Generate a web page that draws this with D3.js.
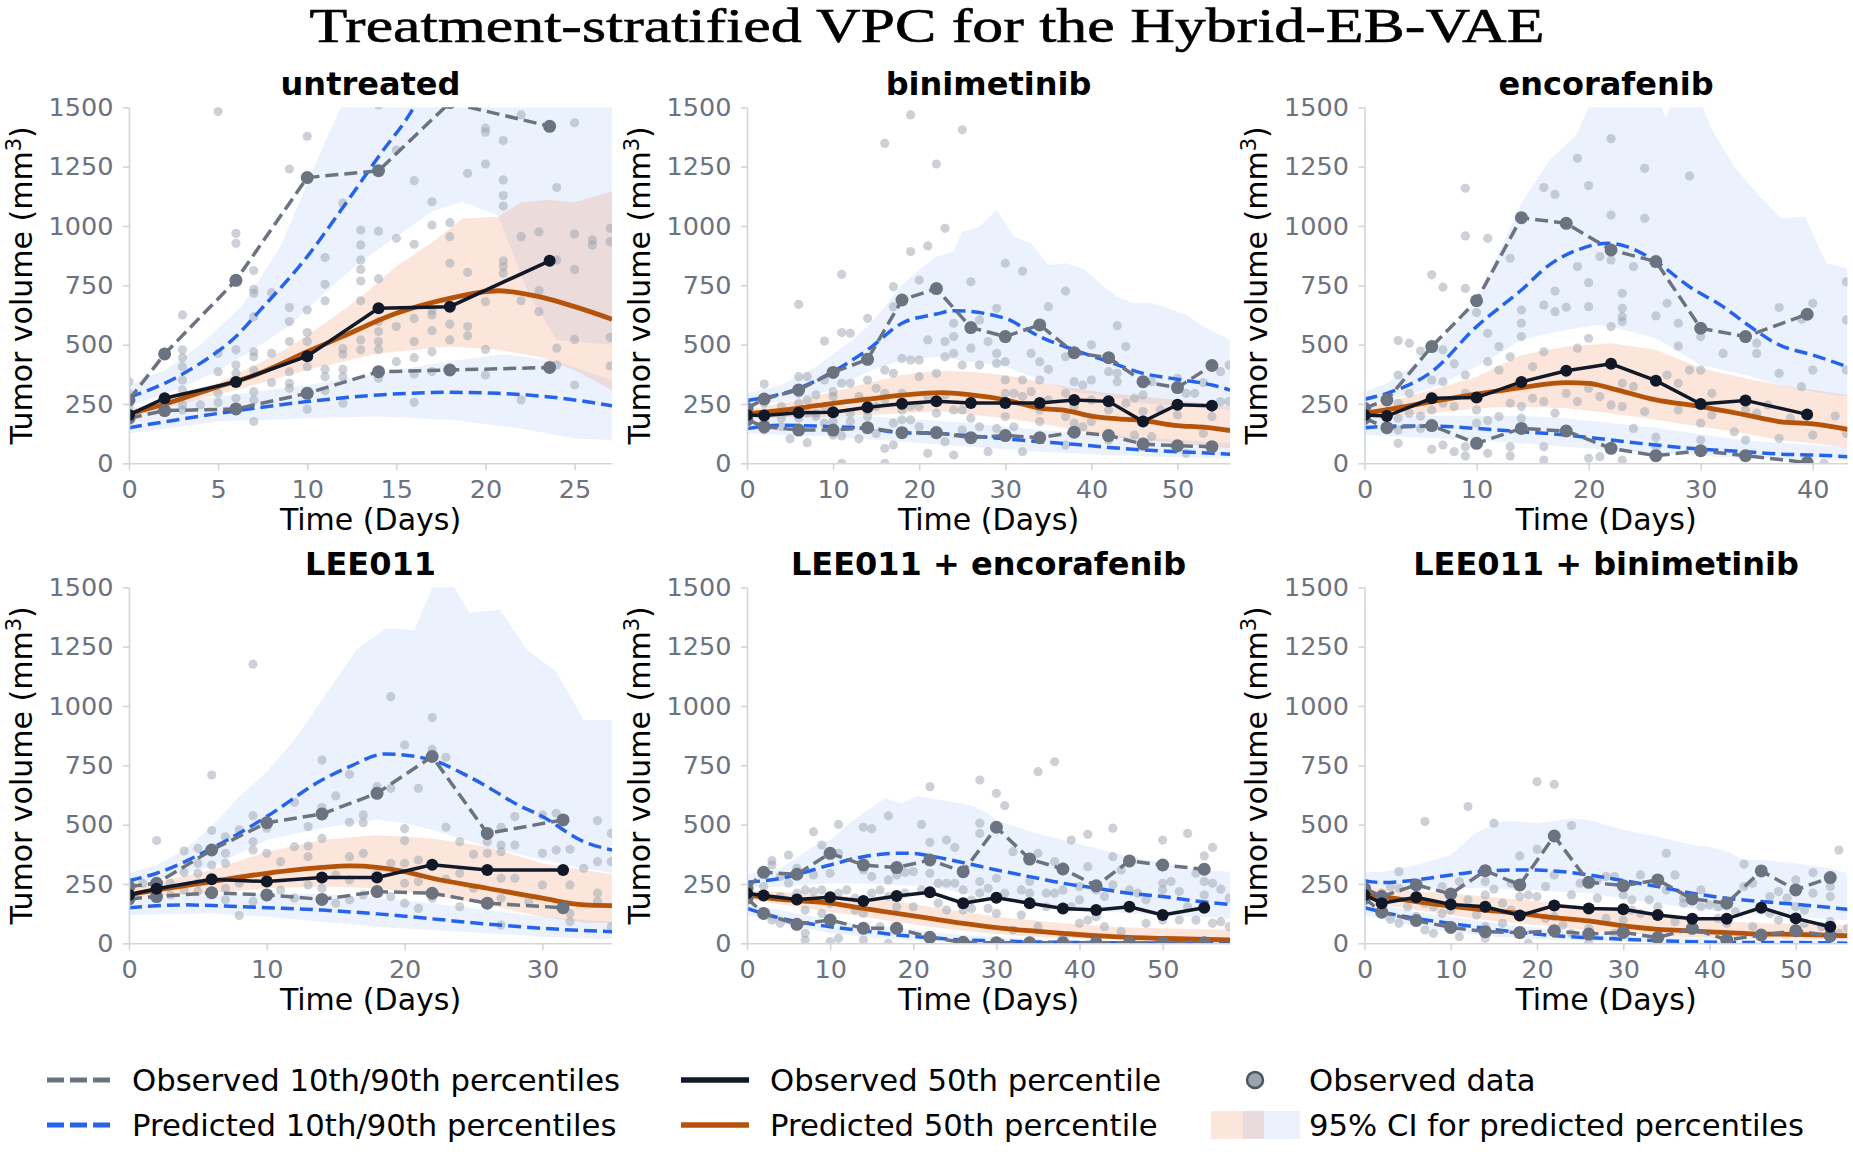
<!DOCTYPE html>
<html><head><meta charset="utf-8">
<script src="https://cdn.jsdelivr.net/npm/d3@7"></script>
<style>body{margin:0;background:#fff} svg{display:block}</style>
</head><body>
<svg id="chart" width="1853" height="1161"></svg>
<script>
// ---------------- DATA ----------------
const treatments = ["untreated","binimetinib","encorafenib","LEE011","LEE011 + encorafenib","LEE011 + binimetinib"];
const xMax = [27.1, 56.1, 43.1, 35.05, 58.1, 56];
const xTickStep = [5, 10, 10, 10, 10, 10];
const yTicks = [0, 250, 500, 750, 1000, 1250, 1500];

const obsTimes = [
 [0,2,6,10,14,18,23.6],
 [0,2,6,10,14,18,22,26,30,34,38,42,46,50,54],
 [0,2,6,10,14,18,22,26,30,34,39.5],
 [0,2,6,10,14,18,22,26,31.5],
 [0,2,6,10,14,18,22,26,30,34,38,42,46,50,55],
 [0,2,6,10,14,18,22,26,30,34,38,42,46,50,54]
];
const obsP90 = [
 [267,461,771,1204,1233,1520,1420],
 [232,271,309,383,438,688,736,572,534,583,466,445,344,319,412],
 [232,267,492,685,1035,1011,899,850,569,534,628],
 [239,253,393,508,545,632,787,463,520],
 [232,299,291,379,330,319,351,302,489,355,313,242,347,330,312],
 [232,197,246,208,306,246,452,257,243,267,187,169,305,225,277]
];
const obsP50 = [
 [204,274,343,451,653,660,853],
 [204,201,213,215,236,251,261,254,254,254,267,261,176,247,243],
 [204,199,274,277,343,390,419,348,250,265,206],
 [204,230,270,260,277,277,331,309,309],
 [211,201,185,194,178,199,215,169,192,169,147,140,154,119,150],
 [204,169,194,164,154,117,159,147,143,119,103,103,150,105,70]
];
const obsP10 = [
 [190,222,229,295,386,393,404],
 [183,154,140,140,150,129,129,108,117,108,131,117,81,74,70],
 [190,150,159,84,147,136,63,32,53,32,3],
 [187,197,213,204,185,218,211,169,150],
 [190,126,80,98,63,63,25,4,2,2,2,2,2,2,2],
 [190,131,96,67,49,45,53,39,46,24,63,14,35,53,31]
];

// predicted percentiles: [day, volume]
const predP90 = [
 [[0,278],[2,337],[4,421],[6,534],[7.2,632],[10,871],[11.9,1067],[14,1292],[16,1503],[17,1650]],
 [[0,264],[6,316],[10,386],[14,478],[18,590],[22,629],[24,643],[30,611],[31.9,576],[34,534],[38,478],[42,428],[46,379],[50,354],[54,330],[56.1,309]],
 [[0,270],[2,295],[6,386],[10,576],[14,730],[16.5,836],[19,899],[21.7,927],[23.4,913],[26,850],[29,744],[32,660],[34,590],[37,499],[40,456],[43.1,407]],
 [[0,264],[2,295],[6,400],[10,534],[14,688],[16,744],[18.6,798],[22,772],[24.2,716],[26,660],[28,590],[30,534],[33,428],[35.05,393]],
 [[0,257],[4.1,274],[10,330],[14,365],[18,379],[20,379],[22,368],[26,340],[30,309],[34,281],[38,253],[42,232],[46,211],[50,197],[54,178],[58.1,164]],
 [[0,264],[2,256],[6,267],[10,288],[14,305],[18,309],[20,309],[22,305],[26,288],[30,264],[34,239],[38,211],[42,190],[46,176],[50,164],[56,143]]
];
const predP50 = [
 [[0,208],[2,250],[5,323],[7,370],[10,470],[12,535],[15,632],[18,695],[20.7,727],[23,702],[25,660],[27.1,607]],
 [[0,208],[6,232],[10,253],[14,270],[18,287],[22.6,298],[26,288],[30,267],[34,232],[37.1,222],[40,199],[42,190],[46,180],[50,159],[53,152],[56.1,138]],
 [[0,211],[3,234],[6,260],[10,291],[14,319],[18,340],[20,337],[22,316],[26,267],[30,239],[34,204],[37,176],[40,166],[43.1,143]],
 [[0,204],[2,225],[6,260],[10,295],[14,320],[16,326],[18,320],[20,302],[22,274],[26,232],[30,190],[33,162],[35.05,159]],
 [[0,204],[4.1,185],[10,169],[14,147],[18,126],[22,105],[26,84],[30,66],[34,53],[38,42],[42,32],[46,25],[50,21],[54,17],[58.1,14]],
 [[0,208],[6,176],[10,157],[14,140],[18,126],[22,108],[26,94],[30,73],[34,59],[38,52],[42,45],[46,39],[50,38],[56,32]]
];
const predP10 = [
 [[0,150],[5,210],[10,260],[14,288],[18,299],[20.7,295],[25,267],[27.1,242]],
 [[0,147],[3.9,160],[10,154],[14,147],[18,129],[22,126],[26,115],[30,103],[34,91],[38,80],[42,67],[46,56],[50,49],[54,42],[56.1,38]],
 [[0,150],[3,157],[6,157],[10,147],[14,133],[18,119],[22,98],[26,77],[30,60],[34,49],[37,39],[40,35],[43.1,28]],
 [[0,150],[4,162],[6,159],[10,150],[14,140],[18,124],[22,103],[26,81],[30,63],[35.05,49]],
 [[0,147],[4.1,105],[10,70],[14,53],[18,35],[22,24],[26,14],[30,10],[34,6],[38,4],[42,3],[50,1],[58.1,0]],
 [[0,150],[3.7,119],[10,84],[14,63],[18,46],[22,32],[26,24],[30,17],[34,11],[38,7],[42,4],[50,3],[56,0]]
];

// 95% CI bounds of the predicted percentiles: [day, volume]
const ciP90Hi = [
 [[0,330],[2,393],[4,498],[6.3,660],[8.5,913],[10.8,1320],[11.9,1500],[13,1700],[27.1,1700]],
 [[0,295],[4,330],[8,407],[12,513],[14,576],[16,660],[18,751],[20,815],[22,871],[24,892],[25,976],[27,997],[29,1067],[31,955],[33,927],[35,836],[37,843],[39,822],[41,758],[43,702],[45,674],[47,674],[49,653],[51,625],[53,576],[56.1,520]],
 [[0,302],[2,337],[6,463],[10,688],[14,1096],[16.5,1278],[18.9,1383],[20.1,1510],[26.4,1510],[26.9,1454],[27.3,1510],[30.1,1510],[31.1,1397],[33,1250],[35,1138],[37.2,1032],[39.3,1039],[41.2,843],[43.1,822]],
 [[0,295],[2,330],[4,393],[6,492],[8,618],[10,723],[12,857],[14,1025],[16,1194],[16.6,1243],[18,1299],[18.6,1327],[20.7,1320],[22.1,1510],[23.5,1510],[24.7,1393],[26.9,1405],[28.9,1236],[31,1145],[33,941],[35.05,941]],
 [[0,291],[4.1,316],[7.9,407],[10,435],[12.3,506],[14,548],[16.6,611],[18.6,590],[20.5,621],[23.4,604],[26.8,583],[29,548],[30,520],[34,471],[38,435],[42,400],[46,365],[50,337],[54,309],[58.1,302]],
 [[0,302],[2,299],[6,330],[10,372],[12.8,463],[15.5,513],[18,513],[20,506],[24.1,527],[26,520],[30,478],[34,449],[38,414],[40,407],[42,386],[44.1,351],[46,351],[50,337],[54,316],[56,295]]
];
const ciP90Lo = [
 [[0,239],[3,320],[5,390],[7,480],[9,580],[11,720],[13,850],[15,955],[17,1060],[18.7,1103],[20.7,1045],[22.5,700],[24,520],[27.1,500]],
 [[0,240],[6,270],[10,310],[14,386],[18,435],[22,449],[26,428],[30,407],[34,351],[38,302],[42,281],[46,253],[50,239],[56.1,225]],
 [[0,239],[6,316],[10,407],[14,520],[18,562],[20.6,583],[22,576],[26,527],[30,414],[34,372],[37,330],[40,302],[43.1,281]],
 [[0,239],[6,323],[10,435],[14,485],[18,522],[20,506],[22,478],[26,407],[30,351],[33,316],[35.05,295]],
 [[0,232],[4.1,239],[10,253],[14,253],[18,246],[22,239],[26,211],[30,190],[34,169],[38,154],[42,138],[46,126],[50,119],[58.1,105]],
 [[0,239],[6,225],[10,232],[14,232],[18,225],[22,218],[26,211],[30,190],[34,169],[38,147],[42,133],[46,119],[50,110],[56,98]]
];
const ciP50Hi = [
 [[0,222],[3,290],[5,340],[7,410],[9,490],[11,590],[13,700],[15,830],[17,930],[18.7,1030],[20.7,1039],[22,1100],[23.5,1110],[25,1100],[27.1,1145]],
 [[0,225],[6,267],[10,302],[14,337],[18,372],[22,390],[26,386],[30,372],[34,344],[38,316],[42,295],[46,281],[50,267],[56.1,239]],
 [[0,232],[6,309],[10,365],[14,456],[18,492],[22,506],[26,478],[30,400],[34,358],[37,330],[40,309],[43.1,288]],
 [[0,232],[6,309],[10,386],[14,435],[18,456],[22,442],[26,407],[30,337],[33,309],[35.05,291]],
 [[0,225],[6,211],[10,204],[14,190],[18,176],[22,154],[26,133],[30,112],[34,98],[38,84],[42,74],[46,67],[50,63],[58.1,56]],
 [[0,239],[6,218],[10,211],[14,197],[18,185],[22,169],[26,154],[30,133],[34,112],[38,98],[42,91],[46,84],[50,81],[56,77]]
];
const ciP50Lo = [
 [[0,195],[6,309],[10,393],[14,463],[18,492],[20.7,478],[23,449],[25,393],[27.1,309]],
 [[0,190],[10,197],[18,211],[22.6,218],[30,190],[34,169],[38,140],[42,112],[46,98],[50,84],[56.1,63]],
 [[0,190],[6,211],[10,232],[14,239],[18,232],[22,211],[26,183],[30,154],[34,126],[37,98],[40,84],[43.1,67]],
 [[0,190],[6,211],[10,232],[14,239],[18,232],[22,204],[26,162],[30,112],[33,87],[35.05,84]],
 [[0,183],[6,154],[10,133],[14,112],[18,91],[22,70],[26,53],[30,39],[34,28],[38,21],[42,17],[50,11],[58.1,10]],
 [[0,176],[6,140],[10,119],[14,98],[18,84],[22,70],[26,56],[30,42],[34,32],[38,25],[42,21],[50,17],[56,14]]
];
const ciP10Hi = [
 [[0,235],[5,280],[10,330],[14,380],[18,430],[21,460],[24,430],[27.1,350]],
 [[0,211],[10,204],[18,190],[26,169],[34,140],[42,119],[50,98],[56.1,84]],
 [[0,197],[6,200],[10,200],[14,200],[18,190],[22,170],[26,150],[30,122],[34,96],[40,77],[43.1,70]],
 [[0,190],[6,204],[10,211],[14,208],[18,190],[22,169],[26,140],[30,112],[35.05,91]],
 [[0,169],[6,126],[10,98],[14,77],[18,63],[22,49],[26,35],[30,25],[34,18],[42,11],[58.1,7]],
 [[0,176],[6,133],[10,112],[14,91],[18,73],[22,59],[26,46],[30,35],[34,28],[42,18],[56,11]]
];
const ciP10Lo = [
 [[0,126],[5,176],[10,190],[14,197],[18,183],[22,147],[25,105],[27.1,98]],
 [[0,126],[10,112],[18,91],[26,70],[34,49],[42,35],[50,25],[56.1,21]],
 [[0,119],[10,98],[18,70],[26,42],[34,21],[43.1,14]],
 [[0,119],[6,126],[10,112],[14,91],[18,70],[22,56],[26,42],[30,28],[35.05,17]],
 [[0,119],[6,70],[10,42],[14,28],[18,17],[22,10],[26,4],[58.1,0]],
 [[0,119],[6,70],[10,49],[14,31],[18,21],[22,14],[30,7],[56,0]]
];

// observed data: rows of [day, volume, volume, ...]
const obsData = [
 [[0,344,295,239,204,183],[2,461,274,222],[3,625,478,445,407,351,309,281,246,225],[4,246],[5,1482,463,386,295,256],
  [6,969,927,478,414,379,274],[7,812,733,716,618,470,449,393,302,267,176],[8,719,463,340],[9,1240,656,597,513,386,337,316],
  [10,1378,646,551,513,407,228],[11,867,754,685,396,365,306],[12,1096,483,459,396,365,253],[13,983,920,857,817,768,685,520,478],
  [14,1510,978,778,597,555,513,480,358],[15,1320,948,576,428],[16,1191,923,610,513,445,376,257],[17,1102,1004,643,625,559,470,386],
  [18,1014,955,843,586,520],[19,1222,805,576,537],[20,1412,1395,1261,681,480,372],[21,1360,1194,1128,1084,853,829,801],
  [22,1468,955,685,267],[23,975,728,639],[24,1162,857,485,414],[25,1435,966,817,522,330],[26,941,920],[27,990,934,531,410]],
 [[0,232,204,176],[2,334,253,211,176,140],[4,239,190,154],[5,103],[6,670,365,295,253,190],[7,365,267,211,87],[8,288,211,197],
  [9,515,351,239,169],[10,302,281,211,176,119],[11,796,551,337,0,115],[12,548,337,211,176],[13,281,103],[14,611,351,225,197],
  [15,316,239,126],[16,1348,393,295,267,63,0],[17,744,660,379,169,77],[18,442,295,225,183],[19,1468,892,435,239,183],
  [20,772,435,365,239,154],[21,916,520,281,42],[22,1261,379,211,140],[23,990,513,449,288,91],[24,590,534,463,225,35],
  [25,1405,414,225,140],[26,765,485,190],[27,604,414,154],[28,513,49],[29,653,463,421,147],[30,843,428,351,295,197],
  [31,295,154],[32,810,351,281,49],[33,463,302],[34,428,351,225,176],[35,660,396,267],[37,726,449,295,197,77],[38,344,239,169],
  [39,330,154],[40,499,351,267,176],[42,386,225,98],[43,580,379,344],[44,492,253],[45,274,119],[46,288,218],[47,344,112],
  [48,225],[50,358,204,63],[51,295,42],[52,295],[53,340,126],[54,414,197],[55,386,260],[56,414,260]],
 [[0,239,204,176],[2,267,197,154],[3,517,372,253,190,140,84],[4,506,295,211],[5,473,199,147],[6,794,351,281,225,59],
  [7,742,478,344,253,77],[8,419,239,49],[9,1159,958,737,372,295,70,31],[10,635,225,169],[11,948,548,428,180,42],[12,492,393,197],
  [13,864,449,253,70,31],[14,646,590,534,239,190],[15,407,274],[16,1162,667,470,260,70,14],[17,1133,726,639,211],[18,657,295],
  [19,1285,829,485,260],[20,1170,761,660,527,316,21],[21,871,281,28],[22,1368,1046,857,576,246],[23,716,653,618,597,337,239,14],
  [24,829,323,147],[25,1243,1032,218],[26,621,110,70],[27,674,372],[28,590,494,337,225],[29,1211,393],[30,534,393,169,98],
  [31,295,204],[32,463],[33,133],[34,225,98],[35,506,463,211],[36,246],[37,656,379,105],[38,190],[39,607,323],[40,674,393,119],
  [41,0],[42,199],[43,765,604,393,126]],
 [[0,232,204,183],[1,253],[2,433,253,211,190],[3,253,204],[4,389,298,225],[5,400,337,295,253,218],[6,709,475,330,211],
  [7,449,379,337,232,183],[8,478,253,117],[9,1176,537,428,393,176],[10,485,379,281],[11,344,225],[12,594,407,190],
  [13,492,410,365,246],[14,772,572,442,232],[15,621,288,169],[16,712,510,365,267,183],[17,541,508,379,204],[18,660,295],
  [19,1039,653,337,197],[20,836,483,433,337,253,169],[21,653,351,260,147],[22,951,817,190],[23,784,489,270],[24,428,295,154],
  [25,375,232],[26,428,379],[27,489,414,386,274,190,77],[28,534,414,274],[29,176],[30,541,379,246],[31,548,393],
  [32,396,246,126,91],[33,316],[34,517,344,211,176],[35,463,344,70]],
 [[0,232,204,183],[2,299,239,126],[3,348,330,98],[4,281,197,84],[5,372,253],[6,316,211,84],[7,225,140,42,14],[8,470,288,218],
  [9,414,225,126],[10,295,169,98,7],[11,501,379,211,21],[12,225],[13,190,140],[14,489,309,126,14],[15,483,281,211],[16,225,70],
  [17,537,267,197,0],[18,288,154],[19,298,211],[20,302,154],[21,501,225],[22,660,425,295],[23,253,169],[24,435,253,140],
  [25,404,253],[26,225,140],[27,183,147],[28,688,506,463,260,211],[29,232,147],[30,632,274,126],[31,580,211],[32,386,56],
  [33,225,119],[34,260,211],[35,723,379,70],[36,211,154],[37,765,344,211],[38,225,28],[39,435,154],[40,239,183,84],
  [41,459,323,98],[42,225,112],[43,197,70],[44,485,365,246],[45,309,49],[46,225,154],[47,211],[48,183,84],[50,435,253,225,98],
  [51,260],[52,218,98],[53,463,154],[54,295,98],[55,368,260,204],[56,404,253,84],[57,228,91],[58,190,70]],
 [[0,239,204,176],[2,211,129],[3,239,101],[4,302,232,84],[5,154],[6,246,112],[7,513,169,56],[8,154,42],[9,239,126],[10,204,140],
  [11,260,28],[12,576,183],[13,119],[14,260,204,70,21],[15,506,228],[16,169,84],[17,253,140],[18,368,197],[19,204,0],
  [20,681,396,197],[21,239,105],[22,670,288,112],[23,77],[24,496,204,42],[25,253],[26,63,3],[27,267,190],[28,281,105],
  [29,281,42],[30,204,98],[31,183,140],[32,288,126],[33,183],[34,154,28],[35,379,225],[36,288,91],[37,190,169],[38,70],
  [39,225,154],[40,162],[41,154,105],[42,84],[43,133],[44,334,239],[45,253,70],[46,154],[47,197,126],[48,218,98],[49,190],
  [50,267,154],[51,140,84],[52,298,211],[53,70],[54,239,197,91],[55,393,42],[56,63]]
];

// ---------------- DRAWING ----------------
const C = {
  blueBand: "#3b82f6", orangeBand: "#ea580c",
  predQ: "#2563eb", predMed: "#b45309",
  obsQ: "#6b7280", obsMed: "#111827",
  dot: "#9ca3af", spine: "#d1d5db", tick: "#6b7280"
};
const FONT = "'DejaVu Sans', sans-serif";
const svg = d3.select("#chart");
const colLeft = [129, 747, 1364.5];
const plotW = 483;
const rowTop = [107.3, 587.3];
const plotH = 356;

svg.append("text")
  .attr("x", 927).attr("y", 42)
  .attr("text-anchor", "middle")
  .attr("textLength", 1235).attr("lengthAdjust", "spacingAndGlyphs")
  .style("font-family", "'Liberation Serif', 'DejaVu Serif', serif")
  .style("font-size", "48px")
  .attr("fill", "#000")
  .attr("stroke", "#000").attr("stroke-width", 0.6)
  .text("Treatment-stratified VPC for the Hybrid-EB-VAE");

treatments.forEach((name, i) => {
  const col = i % 3, row = Math.floor(i / 3);
  const x0 = colLeft[col], y0 = rowTop[row];
  const x = d3.scaleLinear().domain([0, xMax[i]]).range([x0, x0 + plotW]);
  const y = d3.scaleLinear().domain([0, 1500]).range([y0 + plotH, y0]);
  const g = svg.append("g");

  const clipId = "clip" + i;
  svg.append("clipPath").attr("id", clipId).append("rect")
    .attr("x", x0).attr("y", y0).attr("width", plotW).attr("height", plotH);
  const pg = g.append("g").attr("clip-path", `url(#${clipId})`);

  const poly = d3.line().x(d => x(d[0])).y(d => y(d[1])).curve(d3.curveLinearClosed);
  const band = (lo, hi) => poly(hi.concat(lo.slice().reverse()));

  pg.append("path").attr("d", band(ciP10Lo[i], ciP10Hi[i])).attr("fill", C.blueBand).attr("fill-opacity", 0.1);
  pg.append("path").attr("d", band(ciP90Lo[i], ciP90Hi[i])).attr("fill", C.blueBand).attr("fill-opacity", 0.1);
  pg.append("path").attr("d", band(ciP50Lo[i], ciP50Hi[i])).attr("fill", C.orangeBand).attr("fill-opacity", 0.15);

  const pts = [];
  obsData[i].forEach(r => r.slice(1).forEach(v => pts.push([r[0], v])));
  pg.selectAll("circle.dot").data(pts).join("circle").attr("class", "dot")
    .attr("cx", d => x(d[0])).attr("cy", d => y(d[1])).attr("r", 4.6)
    .attr("fill", C.dot).attr("fill-opacity", 0.5);

  const smooth = d3.line().x(d => x(d[0])).y(d => y(d[1])).curve(d3.curveMonotoneX);
  [predP10[i], predP90[i]].forEach(s => {
    pg.append("path").attr("d", smooth(s)).attr("fill", "none")
      .attr("stroke", C.predQ).attr("stroke-width", 3.5).attr("stroke-dasharray", "13,6");
  });
  pg.append("path").attr("d", smooth(predP50[i])).attr("fill", "none")
    .attr("stroke", C.predMed).attr("stroke-width", 4.8);

  const lin = d3.line().x(d => x(d[0])).y(d => y(d[1]));
  [obsP10[i], obsP90[i]].forEach(vals => {
    const s = obsTimes[i].map((t, k) => [t, vals[k]]);
    pg.append("path").attr("d", lin(s)).attr("fill", "none")
      .attr("stroke", C.obsQ).attr("stroke-width", 3.5).attr("stroke-dasharray", "13,6");
    pg.selectAll(null).data(s).join("circle")
      .attr("cx", d => x(d[0])).attr("cy", d => y(d[1])).attr("r", 6.5).attr("fill", C.obsQ);
  });
  const med = obsTimes[i].map((t, k) => [t, obsP50[i][k]]);
  pg.append("path").attr("d", lin(med)).attr("fill", "none")
    .attr("stroke", C.obsMed).attr("stroke-width", 3.5);
  pg.selectAll(null).data(med).join("circle")
    .attr("cx", d => x(d[0])).attr("cy", d => y(d[1])).attr("r", 6).attr("fill", C.obsMed);

  // axes
  const styleAxis = ax => {
    ax.select(".domain").attr("stroke", C.spine).attr("stroke-width", 1.6);
    ax.selectAll(".tick line").attr("stroke", C.spine).attr("stroke-width", 1.6);
    ax.selectAll(".tick text").attr("fill", C.tick).style("font-family", FONT).style("font-size", "25.5px");
  };
  const gy = g.append("g").attr("transform", `translate(${x0},0)`)
    .call(d3.axisLeft(y).tickValues(yTicks).tickFormat(d3.format("d")).tickSize(6).tickSizeOuter(0).tickPadding(9.5));
  styleAxis(gy);
  const xt = d3.range(0, xMax[i] + 1e-6, xTickStep[i]);
  const gx = g.append("g").attr("transform", `translate(0,${y0 + plotH})`)
    .call(d3.axisBottom(x).tickValues(xt).tickFormat(d3.format("d")).tickSize(7).tickSizeOuter(0).tickPadding(9.5));
  styleAxis(gx);

  // labels
  g.append("text").attr("x", x0 + plotW / 2).attr("y", y0 - 12)
    .attr("text-anchor", "middle").style("font-family", FONT).style("font-size", "32px")
    .style("font-weight", "bold").attr("fill", "#000").text(name);
  g.append("text").attr("x", x0 + plotW / 2).attr("y", y0 + plotH + 67)
    .attr("text-anchor", "middle").style("font-family", FONT).style("font-size", "30px")
    .attr("fill", "#000").text("Time (Days)");
  const yl = g.append("text")
    .attr("transform", `translate(${x0 - 97.5},${y0 + plotH / 2}) rotate(-90)`)
    .attr("text-anchor", "middle").style("font-family", FONT).style("font-size", "30px").attr("fill", "#000");
  yl.append("tspan").text("Tumor volume (mm");
  yl.append("tspan").attr("dy", -11).style("font-size", "21px").text("3");
  yl.append("tspan").attr("dy", 11).text(")");
});

// ---------------- LEGEND ----------------
const lg = svg.append("g").style("font-family", FONT).style("font-size", "30.7px");
const rowY = [1080, 1125];
function legLine(x1, x2, yy, color, dash, w) {
  lg.append("line").attr("x1", x1).attr("x2", x2).attr("y1", yy).attr("y2", yy)
    .attr("stroke", color).attr("stroke-width", w).attr("stroke-dasharray", dash || null);
}
function legText(xx, yy, t) {
  lg.append("text").attr("x", xx).attr("y", yy + 11).attr("fill", "#000").text(t);
}
legLine(47, 110, rowY[0], C.obsQ, "17,6", 5); legText(132, rowY[0], "Observed 10th/90th percentiles");
legLine(47, 110, rowY[1], C.predQ, "17,6", 5); legText(132, rowY[1], "Predicted 10th/90th percentiles");
legLine(681, 749, rowY[0], C.obsMed, null, 5.5); legText(770, rowY[0], "Observed 50th percentile");
legLine(681, 749, rowY[1], C.predMed, null, 5.5); legText(770, rowY[1], "Predicted 50th percentile");
lg.append("circle").attr("cx", 1255).attr("cy", rowY[0]).attr("r", 8)
  .attr("fill", C.dot).attr("stroke", "#4b5563").attr("stroke-width", 2.5);
legText(1309, rowY[0], "Observed data");
lg.append("rect").attr("x", 1211).attr("y", rowY[1] - 14).attr("width", 53).attr("height", 28)
  .attr("fill", C.orangeBand).attr("fill-opacity", 0.15);
lg.append("rect").attr("x", 1243).attr("y", rowY[1] - 14).attr("width", 57).attr("height", 28)
  .attr("fill", C.blueBand).attr("fill-opacity", 0.1);
legText(1309, rowY[1], "95% CI for predicted percentiles");
</script>
</body></html>
